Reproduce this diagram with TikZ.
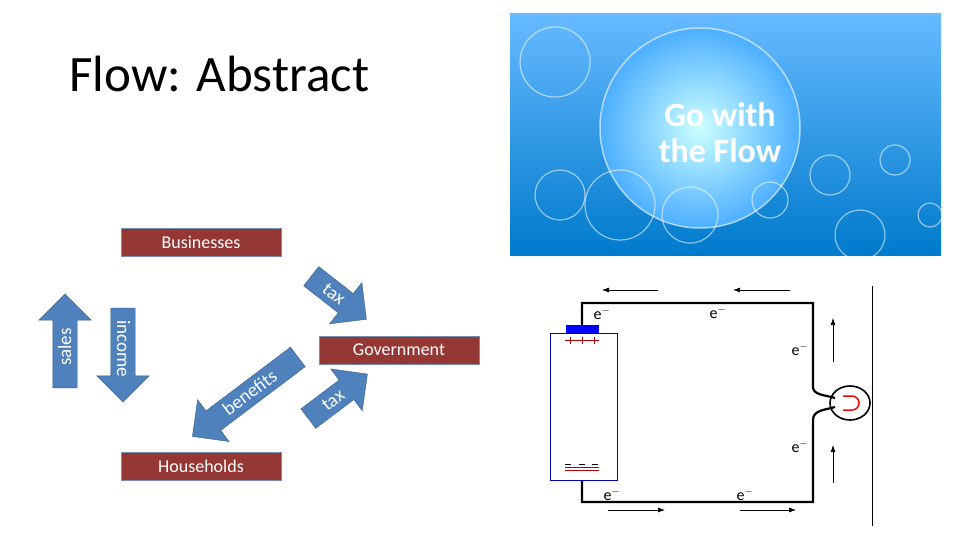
\documentclass[tikz,border=0pt]{standalone}
\usepackage{fontspec}
\setmainfont{Carlito}
\usetikzlibrary{shapes.arrows,arrows.meta}
\definecolor{boxred}{HTML}{953735}
\definecolor{arrblue}{HTML}{4F81BD}
\definecolor{arrborder}{HTML}{385D8A}
\begin{document}
\begin{tikzpicture}[x=1pt,y=-1pt,
  box/.style={draw=arrborder!70,fill=boxred,minimum width=160pt,minimum height=28pt,text=white,font=\fontsize{18}{20}\selectfont,inner sep=0pt},
  barr/.style={single arrow,draw=arrborder,fill=arrblue,text=white,font=\fontsize{19}{21}\selectfont,single arrow head extend=14pt,single arrow tip angle=90,inner xsep=2pt,inner ysep=4pt,text height=14pt,text depth=2pt,minimum height=#1},
  wire/.style={line width=2.2pt},
  earr/.style={-{Latex[length=7pt,width=5pt]},line width=0.7pt},
  el/.style={font=\fontsize{16}{18}\selectfont\rmfamily}]
\useasboundingbox (0,0) rectangle (960,540);
\fill[white] (0,0) rectangle (960,540);
\node[anchor=base west,font=\fontsize{51}{58}\selectfont] (title) at (66,92) {Flow: Abstract};
% boxes
\node[box] (bus) at (201,242) {Businesses};
\node[box] (gov) at (399,350) {Government};
\node[box] (hh) at (201,466) {Households};
% arrows
\node[barr=94pt,rotate=90] (sales) at (65,347) {sales};
\node[barr=94pt,rotate=-90] (income) at (123,349) {income};
\node[barr=70pt,rotate=-38] (tax1) at (334,294) {tax};
\node[barr=132pt,rotate=37,shape border rotate=180] (ben) at (250,393) {benefits};
\node[barr=74pt,rotate=37] (tax2) at (333,400) {tax};
% picture
\begin{scope}
\clip (510,14) rectangle (941,255);
\shade[top color=cyan!55!blue!60!white, bottom color=cyan!60!blue!80!black] (510,14) rectangle (941,255);
\shade[inner color=cyan!20, outer color=cyan!55!blue!70] (700,128) circle (100);
\draw[white,opacity=0.6,line width=1.5pt] (700,128) circle (100);
\foreach \x/\y/\r in {555/62/35,620/205/35,560/195/25,690/215/28,770/200/18,830/175/20,860/235/25,895/160/15,930/215/12}
  \draw[white,opacity=0.55,line width=1.2pt] (\x,\y) circle (\r);
\end{scope}
\node[text=white,font=\fontsize{34}{36}\selectfont\bfseries,align=center] (flowtxt) at (720,133) {Go with\\the Flow};
% circuit
\coordinate (tl) at (582,303); \coordinate (tr) at (813,303);
\coordinate (bl) at (582,502); \coordinate (br) at (813,502);
\draw[wire] (582,333) -- (tl) -- (tr) -- (813,387) .. controls (813,395) and (825,395) .. (835,398);
\draw[wire] (582,480) -- (bl) -- (br) -- (813,420) .. controls (813,410) and (825,410) .. (835,407);
\draw[line width=1.6pt] (850,403) ellipse (20 and 17);
\draw[red,line width=1.5pt] (843,396) -- (852,396) arc (-90:90:7) -- (843,410);
\draw[line width=0.8pt] (872,286) -- (872,526);
\draw[blue!70!black,line width=0.8pt] (550,333) rectangle (617,480);
\fill[blue] (566,325) rectangle (599,333);
\draw[red!70!black] (565,340) -- (599,340) (570,337)--(570,344) (582,337)--(582,344) (594,337)--(594,344);
\draw[red!70!black] (565,467) -- (599,467) (565,470) -- (599,470);
\draw[black] (565,464) -- (571,464) (579,464) -- (585,464) (592,464) -- (598,464);
\draw[earr] (658,290) -- (602,290);
\draw[earr] (790,290) -- (733,290);
\draw[earr] (608,510) -- (665,510);
\draw[earr] (740,510) -- (796,510);
\draw[earr] (833,362) -- (833,318);
\draw[earr] (833,483) -- (833,445);
\foreach \x/\y [count=\i] in {602/313,718/312,800/349,800/446,612/494,745/494}
  \node[el] (e\i) at (\x,\y) {e$^{-}$};
\end{tikzpicture}
\end{document}
